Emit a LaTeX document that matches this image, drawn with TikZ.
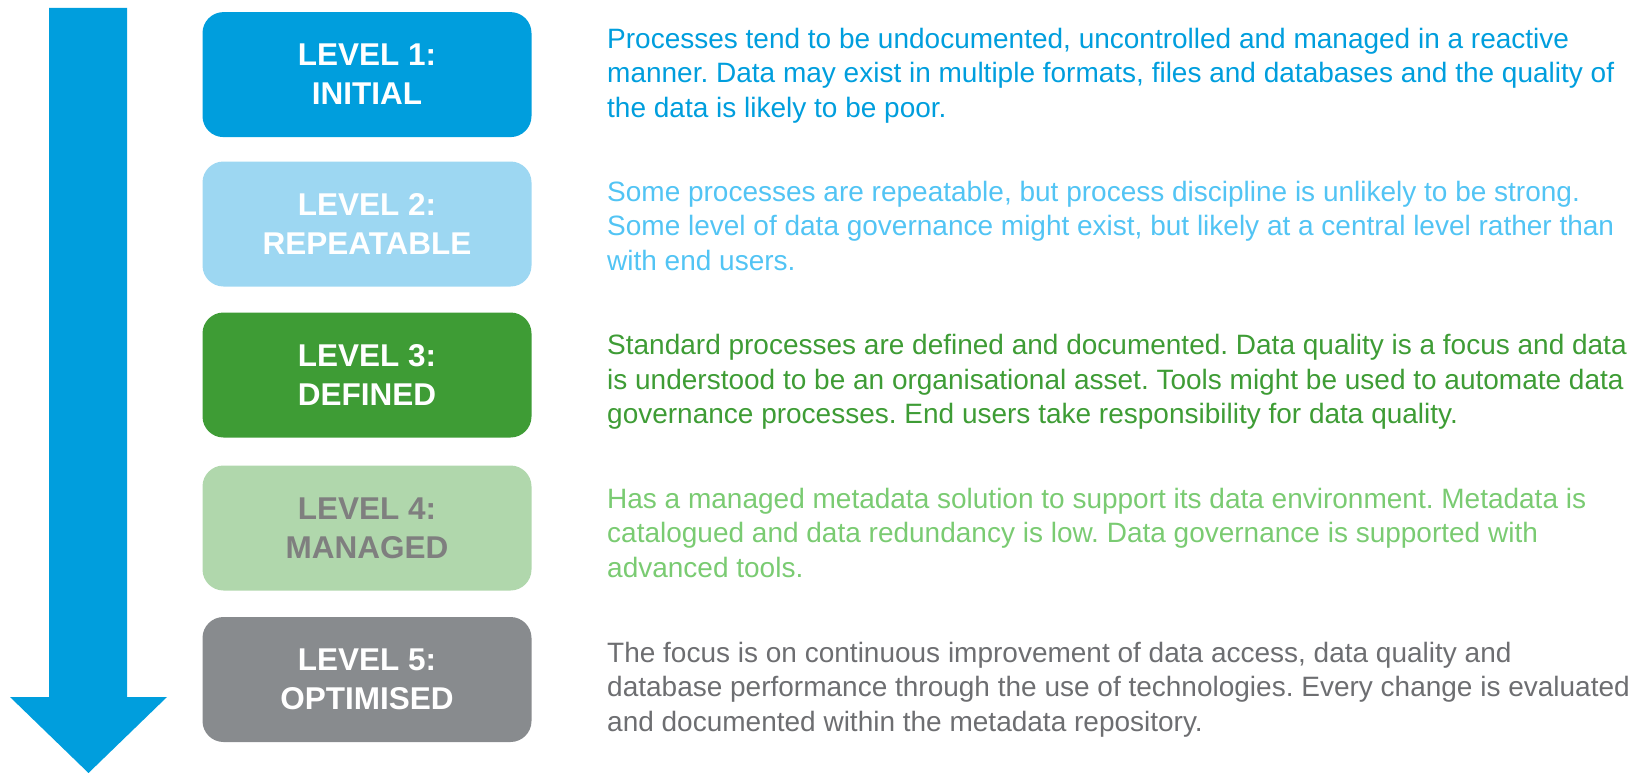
\documentclass[tikz,border=0pt]{standalone}
\usepackage{fontspec}
\setmainfont{Liberation Sans}
\frenchspacing
\definecolor{cblue}{HTML}{009EDD}
\definecolor{clightblue}{HTML}{9DD7F2}
\definecolor{clightbluetext}{HTML}{52C4F4}
\definecolor{cgreen}{HTML}{3E9C35}
\definecolor{clightgreen}{HTML}{B0D7AC}
\definecolor{clightgreentext}{HTML}{7ACB72}
\definecolor{cgray}{HTML}{888B8E}
\definecolor{cgraytext}{HTML}{6D6E71}
\definecolor{clabelgray}{HTML}{7F7F7F}
\begin{document}
\begin{tikzpicture}[x=1pt,y=-1pt,
  levelbox/.style={rounded corners=21pt, minimum width=329pt, minimum height=125pt,
    inner sep=0pt, align=center, font=\fontsize{31.5}{39}\selectfont\bfseries},
  desc/.style={anchor=west, inner sep=0pt, align=left,
    font=\fontsize{28}{34.5}\selectfont}]
\useasboundingbox (0,0) rectangle (1637,773);
% downward arrow on the left
\fill[cblue] (49,8) -- (127,8) -- (127,697) -- (167,697) -- (88.5,773)
  -- (10,697) -- (49,697) -- cycle;
% level boxes
\node[levelbox, fill=cblue, text=white] (l1) at (367,74.6) {LEVEL 1:\\INITIAL};
\node[levelbox, fill=clightblue, text=white] (l2) at (367,224) {LEVEL 2:\\REPEATABLE};
\node[levelbox, fill=cgreen, text=white] (l3) at (367,375) {LEVEL 3:\\DEFINED};
\node[levelbox, fill=clightgreen, text=clabelgray] (l4) at (367,528) {LEVEL 4:\\MANAGED};
\node[levelbox, fill=cgray, text=white] (l5) at (367,679.5) {LEVEL 5:\\OPTIMISED};
% descriptions
\node[desc, text=cblue] (d1) at (607,75.5) {Processes tend to be undocumented, uncontrolled and managed in a reactive\\manner. Data may exist in multiple formats, files and databases and the quality of\\the data is likely to be poor.};
\node[desc, text=clightbluetext] (d2) at (607,225.5) {Some processes are repeatable, but process discipline is unlikely to be strong.\\Some level of data governance might exist, but likely at a central level rather than\\with end users.};
\node[desc, text=cgreen] (d3) at (607,382) {Standard processes are defined and documented. Data quality is a focus and data\\is understood to be an organisational asset. Tools might be used to automate data\\governance processes. End users take responsibility for data quality.};
\node[desc, text=clightgreentext] (d4) at (607,532.5) {Has a managed metadata solution to support its data environment. Metadata is\\catalogued and data redundancy is low. Data governance is supported with\\advanced tools.};
\node[desc, text=cgraytext] (d5) at (607,689.5) {The focus is on continuous improvement of data access, data quality and\\database performance through the use of technologies. Every change is evaluated\\and documented within the metadata repository.};
\end{tikzpicture}
\end{document}
